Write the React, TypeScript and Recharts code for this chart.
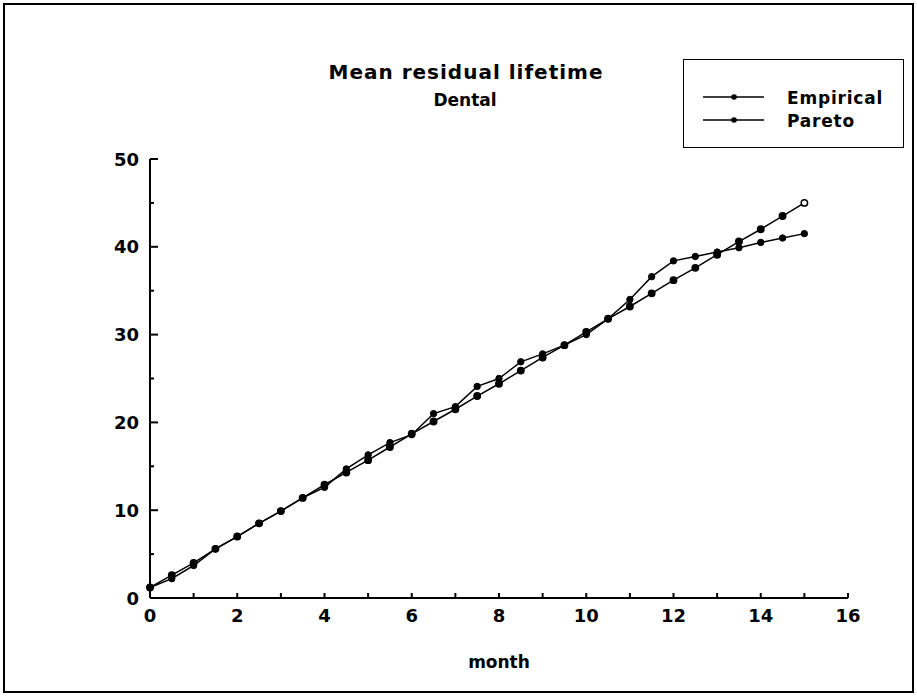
import React from "react";
import { Line, LineChart, XAxis, YAxis } from "recharts";

const months = [
  0, 0.5, 1, 1.5, 2, 2.5, 3, 3.5, 4, 4.5, 5, 5.5, 6, 6.5, 7, 7.5, 8, 8.5, 9,
  9.5, 10, 10.5, 11, 11.5, 12, 12.5, 13, 13.5, 14, 14.5, 15,
];
const empirical = [
  1.2, 2.2, 3.7, 5.6, 7.0, 8.5, 9.9, 11.4, 12.6, 14.7, 16.3, 17.7, 18.6, 21.0,
  21.8, 24.1, 25.0, 26.9, 27.8, 28.8, 30.0, 31.8, 34.0, 36.6, 38.4, 38.9, 39.4,
  39.9, 40.5, 41.0, 41.5,
];
const pareto = [
  1.2, 2.6, 4.0, 5.6, 7.0, 8.5, 9.9, 11.4, 12.9, 14.3, 15.7, 17.2, 18.7, 20.1,
  21.5, 23.0, 24.4, 25.9, 27.4, 28.8, 30.3, 31.8, 33.2, 34.7, 36.2, 37.6, 39.1,
  40.6, 42.0, 43.5, 45.0,
];
const xTicks = [0, 1, 2, 3, 4, 5, 6, 7, 8, 9, 10, 11, 12, 13, 14, 15, 16];
const yTicks = [0, 5, 10, 15, 20, 25, 30, 35, 40, 45, 50];
const seriesNames = ["Empirical", "Pareto"];

const FONT = '"DejaVu Sans", "Liberation Sans", Arial, sans-serif';

const data = months.map((m, i) => ({
  month: m,
  empirical: empirical[i],
  pareto: pareto[i],
}));

// ticks drawn inside the plot, labels only on the major ones
function XTick(props: any) {
  const { x, y, payload } = props;
  const v = payload.value as number;
  return (
    <g>
      <line x1={x} x2={x} y1={y} y2={y - 5} stroke="#000" strokeWidth={2} />
      {v % 2 === 0 && (
        <text
          x={x}
          y={y + 17}
          textAnchor="middle"
          dominantBaseline="central"
          fontFamily={FONT}
          fontWeight="bold"
          fontSize={18}
          fill="#000"
        >
          {v}
        </text>
      )}
    </g>
  );
}

function YTick(props: any) {
  const { x, y, payload } = props;
  const v = payload.value as number;
  const major = v % 10 === 0;
  return (
    <g>
      <line x1={x} x2={x + (major ? 8 : 4)} y1={y} y2={y} stroke="#000" strokeWidth={2} />
      {major && (
        <text
          x={x - 11}
          y={y}
          textAnchor="end"
          dominantBaseline="central"
          fontFamily={FONT}
          fontWeight="bold"
          fontSize={18}
          fill="#000"
        >
          {v}
        </text>
      )}
    </g>
  );
}

const paretoDot = (props: any) => {
  const { cx, cy, index } = props;
  const last = index === pareto.length - 1;
  return (
    <circle
      key={`p-${index}`}
      cx={cx}
      cy={cy}
      r={3.2}
      fill={last ? "#fff" : "#000"}
      stroke="#000"
      strokeWidth={1.5}
    />
  );
};

function LegendBox() {
  return (
    <div
      style={{
        position: "absolute",
        left: 683,
        top: 59,
        width: 221,
        height: 89,
        border: "1.5px solid #000",
        background: "#fff",
        boxSizing: "border-box",
      }}
    >
      <svg width={221} height={89} style={{ display: "block" }}>
        {seriesNames.map((name, i) => {
          const y = 37 + i * 23;
          return (
            <g key={name}>
              <line x1={19} x2={80} y1={y} y2={y} stroke="#000" strokeWidth={1.5} />
              <circle cx={50} cy={y} r={2.8} fill="#000" />
              <text
                x={103}
                y={y + 1}
                dominantBaseline="central"
                fontFamily={FONT}
                fontWeight="bold"
                fontSize={17}
                letterSpacing={0.8}
                fill="#000"
              >
                {name}
              </text>
            </g>
          );
        })}
      </svg>
    </div>
  );
}

export default function App() {
  return (
    <div
      style={{
        position: "absolute",
        left: 0,
        top: 0,
        width: 917,
        height: 697,
        background: "#fff",
        fontFamily: FONT,
      }}
    >
      <div
        style={{
          position: "absolute",
          left: 3,
          top: 3,
          width: 907,
          height: 686,
          border: "2px solid #000",
        }}
      />
      <div
        style={{
          position: "absolute",
          left: 266,
          width: 400,
          top: 60,
          textAlign: "center",
          fontWeight: "bold",
          fontSize: 20,
          letterSpacing: 1,
          lineHeight: "24px",
        }}
      >
        Mean residual lifetime
      </div>
      <div
        style={{
          position: "absolute",
          left: 265,
          width: 400,
          top: 89,
          textAlign: "center",
          fontWeight: "bold",
          fontSize: 17,
          lineHeight: "22px",
        }}
      >
        Dental
      </div>
      <div style={{ position: "absolute", left: 0, top: 0 }}>
        <LineChart
          width={917}
          height={697}
          data={data}
          margin={{ top: 159, right: 69, bottom: 69, left: 90 }}
        >
          <XAxis
            dataKey="month"
            type="number"
            domain={[0, 16]}
            ticks={xTicks}
            interval={0}
            height={30}
            tickSize={0}
            tickMargin={0}
            tick={<XTick />}
            axisLine={{ stroke: "#000", strokeWidth: 2 }}
            tickLine={false}
            label={{
              value: "month",
              position: "bottom",
              offset: 28,
              fontFamily: FONT,
              fontWeight: "bold",
              fontSize: 17,
              fill: "#000",
            }}
          />
          <YAxis
            type="number"
            domain={[0, 50]}
            ticks={yTicks}
            interval={0}
            width={60}
            tickSize={0}
            tickMargin={0}
            tick={<YTick />}
            axisLine={{ stroke: "#000", strokeWidth: 2 }}
            tickLine={false}
          />
          <Line
            dataKey="empirical"
            name="Empirical"
            type="linear"
            stroke="#000"
            strokeWidth={1.5}
            dot={{ r: 3.2, fill: "#000", stroke: "#000", strokeWidth: 1 }}
            isAnimationActive={false}
          />
          <Line
            dataKey="pareto"
            name="Pareto"
            type="linear"
            stroke="#000"
            strokeWidth={1.5}
            dot={paretoDot}
            isAnimationActive={false}
          />
        </LineChart>
      </div>
      <LegendBox />
    </div>
  );
}
